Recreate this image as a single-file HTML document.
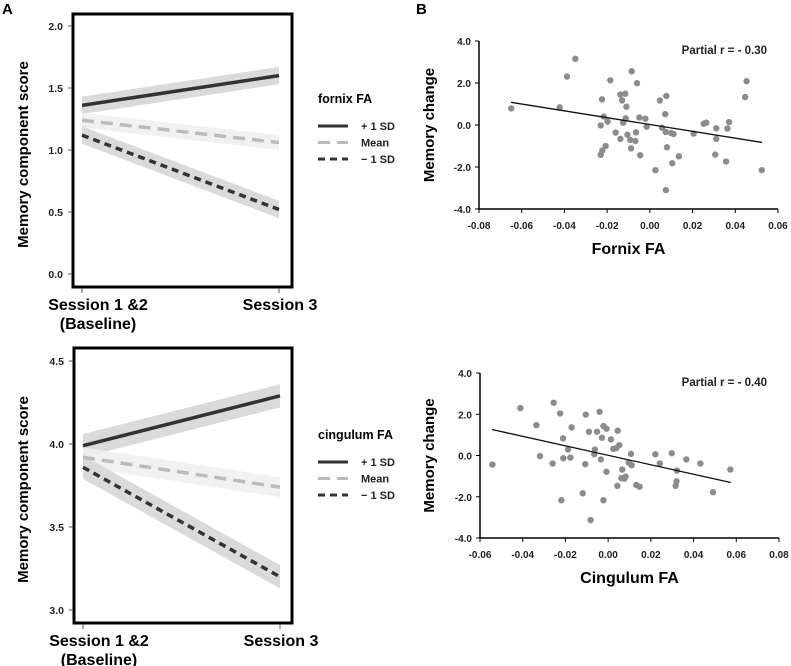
<!DOCTYPE html>
<html><head><meta charset="utf-8"><style>
body{margin:0;background:#fff;}
svg{display:block;font-family:"Liberation Sans",Arial,sans-serif;}
</style></head><body>
<svg id="fig" width="791" height="666" viewBox="0 0 791 666"></svg>
<script>
// ===== Panel A data =====
const sessions = ["Session 1 &2", "Session 3"];
const fornixPlus = [1.36, 1.60];
const fornixMean = [1.24, 1.06];
const fornixMinus = [1.12, 0.52];
const fornixBand = [0.07, 0.06, 0.07];
const fornixTicks = [0.0, 0.5, 1.0, 1.5, 2.0];
const cingPlus = [3.99, 4.29];
const cingMean = [3.92, 3.74];
const cingMinus = [3.86, 3.20];
const cingBand = [0.07, 0.06, 0.07];
const cingTicks = [3.0, 3.5, 4.0, 4.5];
const legendLabels = ["+ 1 SD", "Mean", "\u2212 1 SD"];
// ===== Panel B data =====
const fornixX = [-0.0649,-0.0422,-0.0388,-0.0349,-0.0224,-0.0216,-0.0230,-0.0198,-0.0223,-0.0230,-0.0207,-0.0185,-0.0160,-0.0138,-0.0130,-0.0115,-0.0110,-0.0113,-0.0125,-0.0138,-0.0105,-0.0092,-0.0088,-0.0085,-0.0065,-0.0068,-0.0060,-0.0049,-0.0045,-0.0021,-0.0015,0.0026,0.0047,0.0057,0.0072,0.0077,0.0074,0.0080,0.0075,0.0100,0.0111,0.0105,0.0136,0.0205,0.0252,0.0264,0.0311,0.0311,0.0306,0.0363,0.0371,0.0357,0.0446,0.0453,0.0524];
const fornixY = [0.79,0.84,2.31,3.15,1.22,0.40,-0.02,0.16,-1.22,-1.42,-1.00,2.13,-0.36,1.45,1.17,1.49,0.87,0.32,0.11,-0.66,-0.46,-0.71,-1.11,2.56,-0.35,-0.76,1.99,0.36,-1.44,0.30,-0.08,-2.15,1.17,-0.13,0.52,1.38,-0.33,-1.06,-3.10,-0.38,-0.43,-1.82,-1.49,-0.41,0.06,0.11,-0.16,-0.66,-1.41,-0.17,0.14,-1.74,1.33,2.09,-2.15];
const fornixFitX = [-0.065, 0.0525];
const fornixFitY = [1.08, -0.83];
const fornixXTicks = [-0.08,-0.06,-0.04,-0.02,0.00,0.02,0.04,0.06];
const cingX = [-0.0542,-0.0411,-0.0336,-0.0319,-0.0260,-0.0255,-0.0225,-0.0219,-0.0211,-0.0210,-0.0188,-0.0177,-0.0171,-0.0119,-0.0105,-0.0107,-0.0090,-0.0082,-0.0065,-0.0062,-0.0052,-0.0040,-0.0034,-0.0029,-0.0022,-0.0022,-0.0008,-0.0008,0.0013,0.0024,0.0038,0.0045,0.0043,0.0052,0.0066,0.0062,0.0076,0.0082,0.0096,0.0107,0.0110,0.0132,0.0147,0.0221,0.0242,0.0298,0.0322,0.0320,0.0316,0.0366,0.0432,0.0491,0.0572];
const cingY = [-0.44,2.30,1.47,-0.03,-0.39,2.56,2.04,-2.17,0.83,-0.13,0.29,-0.10,1.36,-1.83,1.98,-0.42,1.15,-3.13,0.06,0.29,1.15,2.12,-0.19,0.86,1.43,-2.17,1.30,-0.79,0.78,0.32,0.36,1.20,-1.47,0.50,-0.68,-1.10,-1.12,-1.02,-0.34,0.08,-0.47,-1.43,-1.51,0.06,-0.39,0.11,-0.73,-1.25,-1.47,-0.19,-0.39,-1.78,-0.68];
const cingFitX = [-0.0544, 0.0574];
const cingFitY = [1.26, -1.31];
const cingXTicks = [-0.06,-0.04,-0.02,0.00,0.02,0.04,0.06,0.08];
const memYTicks = [-4.0,-2.0,0.0,2.0,4.0];

const NS="http://www.w3.org/2000/svg";
const svg=document.getElementById('fig');
function el(tag,attrs,parent){const e=document.createElementNS(NS,tag);for(const k in attrs)e.setAttribute(k,attrs[k]);(parent||svg).appendChild(e);return e;}
function txt(s,attrs,parent){const e=el('text',attrs,parent);e.textContent=s;return e;}

function linePanel(o){
  const g=el('g',{});
  
  
  const sx=i=>o.x0+i*(o.x1-o.x0);
  const sy=v=>o.yBot+(v-o.vMin)/(o.vMax-o.vMin)*(o.yTop-o.yBot);
  const series=[[o.plus,'#333','none',o.band[0],'#d4d4d4'],[o.mean,'#bbb','12,7',o.band[1],'#efefef'],[o.minus,'#333','7,5',o.band[2],'#d4d4d4']];
  const names=['plus-sd','mean','minus-sd'];
  series.forEach((s,k)=>{
    const d=s[0],b=s[3];
    const p=el('polygon',{points:`${sx(0)},${sy(d[0]+b)} ${sx(1)},${sy(d[1]+b)} ${sx(1)},${sy(d[1]-b)} ${sx(0)},${sy(d[0]-b)}`,fill:s[4],'fill-opacity':'0.85'},g);
    
    
  });
  series.forEach((s,k)=>{
    const d=s[0];
    const l=el('line',{x1:sx(0),y1:sy(d[0]),x2:sx(1),y2:sy(d[1]),stroke:s[1],'stroke-width':3.5,'stroke-dasharray':s[2]},g);
    
    
  });
  const box=el('rect',{x:o.bx,y:o.by,width:o.bw,height:o.bh,fill:'none',stroke:'#000','stroke-width':3},g);
  
  
  o.ticks.forEach(t=>{
    el('line',{x1:o.bx-5,x2:o.bx-1,y1:sy(t),y2:sy(t),stroke:'#555','stroke-width':1},g);
    const tl=txt(t.toFixed(1),{x:o.bx-10,y:sy(t)+4,'text-anchor':'end','font-size':10.5,'font-weight':'bold',fill:'#222'},g);
    
    
  });
  [0,1].forEach(i=>el('line',{x1:sx(i),x2:sx(i),y1:o.by+o.bh+1,y2:o.by+o.bh+6,stroke:'#555'},g));
  const s1=txt(sessions[0],{x:sx(0)+16,y:o.by+o.bh+23,'text-anchor':'middle','font-size':16,'font-weight':'bold'},g);
  
  
  const s1b=txt('(Baseline)',{x:sx(0)+16,y:o.by+o.bh+42,'text-anchor':'middle','font-size':16,'font-weight':'bold'},g);
  
  
  const s3=txt(sessions[1],{x:sx(1)+1,y:o.by+o.bh+23,'text-anchor':'middle','font-size':16,'font-weight':'bold'},g);
  
  
  const yt=txt('Memory component score',{x:0,y:0,'text-anchor':'middle','font-size':15,'font-weight':'bold',transform:`translate(28,${o.by+o.bh/2+4}) rotate(-90)`},g);
  
  
  // legend
  const lg=el('g',{},g);
  
  
  const lt=txt(o.legendTitle,{x:318,y:o.legY,'font-size':12.5,'font-weight':'bold'},lg);
  
  
  series.forEach((s,k)=>{
    const y=o.legY+23+k*16.5;
    el('line',{x1:318,x2:348,y1:y,y2:y,stroke:s[1],'stroke-width':3,'stroke-dasharray':s[2]},lg);
    const e=txt(legendLabels[k],{x:361,y:y+4,'font-size':11,'font-weight':'bold',fill:'#222'},lg);
    
    
  });
}
linePanel({name:'fornix-line-chart',x0:82,x1:279,yTop:26,yBot:274,vMin:0,vMax:2,bx:73,by:14,bw:219,bh:273,plus:fornixPlus,mean:fornixMean,minus:fornixMinus,band:fornixBand,ticks:fornixTicks,legendTitle:'fornix FA',legY:103});
linePanel({name:'cingulum-line-chart',x0:83,x1:280,yTop:361,yBot:610,vMin:3,vMax:4.5,bx:74,by:348,bw:218,bh:275,plus:cingPlus,mean:cingMean,minus:cingMinus,band:cingBand,ticks:cingTicks,legendTitle:'cingulum FA',legY:439});

function scatter(o){
  const g=el('g',{});
  
  
  const sx=v=>o.ax+(v-o.xMin)/(o.xMax-o.xMin)*(o.axR-o.ax);
  const sy=v=>o.ay+(v-(-4))/8*(o.ayTop-o.ay);
  o.xs.forEach((x,i)=>{
    const c=el('circle',{cx:sx(x),cy:sy(o.ys[i]),r:3.2,fill:'#8c8c8c'},g);
    
    
  });
  const fl=el('line',{x1:sx(o.fx[0]),y1:sy(o.fy[0]),x2:sx(o.fx[1]),y2:sy(o.fy[1]),stroke:'#111','stroke-width':1.3},g);
  
  
  el('line',{x1:o.ax,x2:o.ax,y1:o.ayTop,y2:o.ay,stroke:'#000','stroke-width':1.5},g);
  el('line',{x1:o.ax,x2:o.axR,y1:o.ay,y2:o.ay,stroke:'#000','stroke-width':1.5},g);
  memYTicks.forEach(t=>{
    el('line',{x1:o.ax-4,x2:o.ax,y1:sy(t),y2:sy(t),stroke:'#000'},g);
    const l=txt(t.toFixed(1),{x:o.ax-8,y:sy(t)+4,'text-anchor':'end','font-size':10,'font-weight':'bold',fill:'#222'},g);
    
    
  });
  o.xt.forEach(t=>{
    el('line',{x1:sx(t),x2:sx(t),y1:o.ay,y2:o.ay+4,stroke:'#000'},g);
    const l=txt(t.toFixed(2),{x:sx(t),y:o.ay+20,'text-anchor':'middle','font-size':10,'font-weight':'bold',fill:'#222'},g);
    
    
  });
  const xt=txt(o.xTitle,{x:(o.ax+o.axR)/2,y:o.ay+45,'text-anchor':'middle','font-size':16,'font-weight':'bold'},g);
  
  
  const yt=txt('Memory change',{x:0,y:0,'text-anchor':'middle','font-size':15,'font-weight':'bold',transform:`translate(434,${(o.ay+o.ayTop)/2}) rotate(-90)`},g);
  
  
  const pr=txt(o.r,{x:767,y:o.ayTop+13,'text-anchor':'end','font-size':11.5,'font-weight':'bold',fill:'#222'},g);
  
  
}
scatter({name:'fornix-scatter',ax:479,axR:778,xMin:-0.08,xMax:0.06,ay:209,ayTop:41,xs:fornixX,ys:fornixY,fx:fornixFitX,fy:fornixFitY,xt:fornixXTicks,xTitle:'Fornix FA',r:'Partial r = - 0.30'});
scatter({name:'cingulum-scatter',ax:480,axR:779,xMin:-0.06,xMax:0.08,ay:538,ayTop:373,xs:cingX,ys:cingY,fx:cingFitX,fy:cingFitY,xt:cingXTicks,xTitle:'Cingulum FA',r:'Partial r = - 0.40'});

const A=txt('A',{x:2,y:14,'font-size':15,'font-weight':'bold'});


const B=txt('B',{x:416,y:14,'font-size':15,'font-weight':'bold'});


</script>
</body></html>
